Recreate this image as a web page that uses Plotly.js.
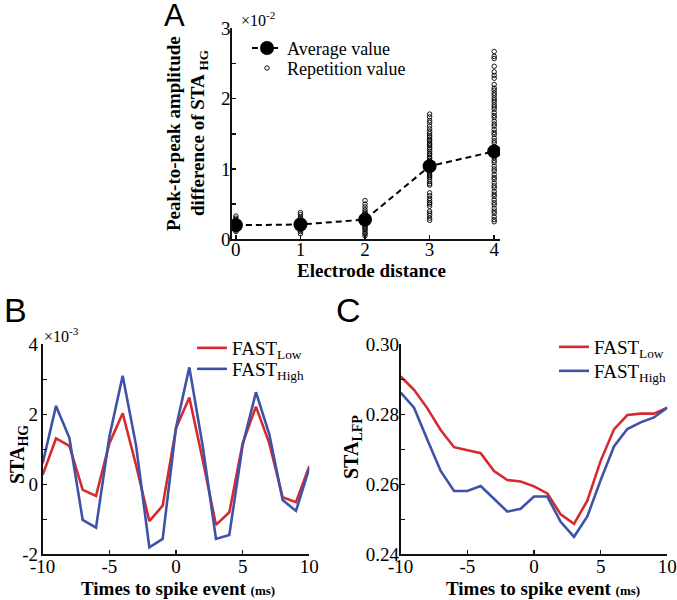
<!DOCTYPE html>
<html>
<head>
<meta charset="utf-8">
<script src="https://cdn.plot.ly/plotly-3.0.1.min.js"></script>
<style>html,body{margin:0;padding:0;background:#fff;}#chart{width:677px;height:600px;}</style>
</head>
<body>
<div id="chart"></div>
<script>
// ---------- Panel A data ----------
var electrodeDistance = [0, 1, 2, 3, 4];
var averageValue = [0.20, 0.21, 0.28, 1.04, 1.25];   // x10^-2
var rep0 = [0.33, 0.30, 0.28, 0.26, 0.25, 0.23, 0.22, 0.21, 0.19, 0.18, 0.17, 0.16, 0.14, 0.13, 0.11];
var rep1 = [0.38, 0.35, 0.31, 0.29, 0.27, 0.25, 0.24, 0.22, 0.21, 0.19, 0.18, 0.16, 0.15, 0.13, 0.11, 0.08];
var rep2 = [0.55, 0.50, 0.46, 0.42, 0.39, 0.37, 0.35, 0.33, 0.31, 0.30, 0.27, 0.25, 0.23, 0.21, 0.19, 0.17, 0.15, 0.13, 0.10, 0.08, 0.05];
var rep3 = [1.78, 1.74, 1.69, 1.66, 1.61, 1.57, 1.53, 1.50, 1.47, 1.45, 1.42, 1.40, 1.37, 1.35, 1.33, 1.30, 1.28, 1.25, 1.22, 1.20, 1.17, 1.15, 1.12, 1.10, 1.07, 1.05, 1.02, 1.00, 0.97, 0.95, 0.92, 0.90, 0.88, 0.85, 0.82, 0.79, 0.77, 0.66, 0.62, 0.58, 0.55, 0.52, 0.50, 0.47, 0.40, 0.37, 0.34, 0.30, 0.27];
var rep4 = [2.67, 2.60, 2.57, 2.46, 2.38, 2.33, 2.29, 2.20, 2.15, 2.12, 2.08, 2.05, 2.01, 1.98, 1.95, 1.91, 1.88, 1.85, 1.80, 1.76, 1.73, 1.68, 1.64, 1.61, 1.56, 1.52, 1.49, 1.44, 1.40, 1.37, 1.32, 1.29, 1.24, 1.21, 1.16, 1.12, 1.09, 1.04, 1.00, 0.97, 0.92, 0.88, 0.85, 0.80, 0.76, 0.73, 0.68, 0.64, 0.61, 0.56, 0.52, 0.49, 0.44, 0.40, 0.37, 0.32, 0.28, 0.25];
var repetitions = [rep0, rep1, rep2, rep3, rep4];

// ---------- Panels B and C data ----------
var timeToSpike = [-10, -9, -8, -7, -6, -5, -4, -3, -2, -1, 0, 1, 2, 3, 4, 5, 6, 7, 8, 9, 10];
var staHgLow  = [0.27, 1.31, 1.10, -0.16, -0.33, 1.17, 2.03, 0.55, -1.05, -0.61, 1.60, 2.48, 0.70, -1.16, -0.80, 1.17, 2.22, 1.17, -0.37, -0.51, 0.52];  // x10^-3
var staHgHigh = [0.60, 2.24, 1.33, -1.02, -1.24, 1.36, 3.10, 1.12, -1.80, -1.56, 1.62, 3.34, 1.10, -1.56, -1.45, 1.12, 2.63, 1.43, -0.45, -0.76, 0.46]; // x10^-3
var staLfpLow  = [0.2908, 0.2870, 0.2817, 0.2755, 0.2706, 0.2698, 0.2689, 0.2638, 0.2612, 0.2608, 0.2594, 0.2574, 0.2514, 0.2487, 0.2553, 0.2667, 0.2757, 0.2798, 0.2802, 0.2802, 0.2819];
var staLfpHigh = [0.2862, 0.2819, 0.2727, 0.2638, 0.2581, 0.2581, 0.2595, 0.2557, 0.2522, 0.2530, 0.2565, 0.2565, 0.2493, 0.2450, 0.2508, 0.2612, 0.2708, 0.2758, 0.2777, 0.2791, 0.2819];

var xTicksA = [0, 1, 2, 3, 4];
var yTicksA = [0, 1, 2, 3];
var yMinorA = [0.5, 1.5, 2.5];
var xTicksBC = [-10, -5, 0, 5, 10];
var xTickTextBC = ['-10', '-5', '0', '5', '10'];
var yTicksB = [-2, 0, 2, 4];
var yTickTextB = ['-2', '0', '2', '4'];
var yMinorB = [-1, 1, 3];
var yTicksC = [0.24, 0.26, 0.28, 0.30];
var yTickTextC = ['0.24', '0.26', '0.28', '0.30'];
var yMinorC = [0.25, 0.27, 0.29];

var RED = 'rgb(214,42,48)';
var BLUE = 'rgb(62,82,168)';
var W = 677, H = 600;
function fx(p) { return p / W; }
function fy(p) { return 1 - p / H; }
var SERIF = 'Liberation Serif';
var SANS = 'Liberation Sans';

var traces = [];
traces.push({
  x: electrodeDistance, y: averageValue,
  type: 'scatter', mode: 'lines+markers',
  name: 'Average value', legend: 'legend', showlegend: true,
  line: { color: '#000', width: 2, dash: '6px,4px' },
  marker: { size: 14, color: '#000' },
  xaxis: 'x', yaxis: 'y'
});
repetitions.forEach(function (vals, i) {
  traces.push({
    x: vals.map(function () { return electrodeDistance[i]; }),
    y: vals,
    type: 'scatter', mode: 'markers',
    name: 'Repetition value',
    legend: 'legend4',
    showlegend: i === 0,
    marker: { symbol: 'circle-open', size: 4.5, color: '#000', line: { width: 0.9, color: '#000' } },
    xaxis: 'x', yaxis: 'y', hoverinfo: 'skip'
  });
});
traces.push({ x: timeToSpike, y: staHgLow, type: 'scatter', mode: 'lines', name: 'FAST<sub>Low</sub>', legend: 'legend2',
  line: { color: RED, width: 2.6 }, xaxis: 'x2', yaxis: 'y2' });
traces.push({ x: timeToSpike, y: staHgHigh, type: 'scatter', mode: 'lines', name: 'FAST<sub>High</sub>', legend: 'legend5',
  line: { color: BLUE, width: 2.6 }, xaxis: 'x2', yaxis: 'y2' });
traces.push({ x: timeToSpike, y: staLfpLow, type: 'scatter', mode: 'lines', name: 'FAST<sub>Low</sub>', legend: 'legend3',
  line: { color: RED, width: 2.6 }, xaxis: 'x3', yaxis: 'y3' });
traces.push({ x: timeToSpike, y: staLfpHigh, type: 'scatter', mode: 'lines', name: 'FAST<sub>High</sub>', legend: 'legend6',
  line: { color: BLUE, width: 2.6 }, xaxis: 'x3', yaxis: 'y3' });

function axisBase(extra) {
  var a = {
    showgrid: false, zeroline: false, showline: true, linecolor: '#111', linewidth: 1.8,
    ticks: 'inside', ticklen: 4, tickwidth: 1.5, tickcolor: '#111', tickmode: 'array',
    ticklabeloverflow: 'allow',
    tickfont: { family: SERIF, size: 19, color: '#000' }, fixedrange: true
  };
  for (var k in extra) a[k] = extra[k];
  return a;
}
function minorTicks(vals) {
  return { tickmode: 'array', tickvals: vals, ticks: 'inside', ticklen: 4, tickwidth: 1.5, tickcolor: '#111', showgrid: false };
}
function legendAt(px, py, size) {
  return { visible: true, x: fx(px), y: fy(py), xanchor: 'left', yanchor: 'top', bgcolor: 'rgba(0,0,0,0)',
    font: { family: SERIF, size: size, color: '#000' }, itemwidth: 30 };
}

var layout = {
  width: W, height: H,
  showlegend: true,
  margin: { l: 0, r: 0, t: 0, b: 0 },
  paper_bgcolor: '#fff', plot_bgcolor: 'rgba(0,0,0,0)',
  font: { family: SERIF, color: '#000' },
  xaxis: axisBase({ domain: [fx(232), fx(500)], range: [-0.06, 4.09], tickvals: xTicksA, anchor: 'y', ticklabelstandoff: -8 }),
  yaxis: axisBase({ domain: [fy(239.3), fy(28.3)], range: [0, 3], tickvals: yTicksA, anchor: 'x', minor: minorTicks(yMinorA), ticklabelstandoff: -4 }),
  xaxis2: axisBase({ domain: [fx(42.7), fx(309.3)], range: [-10, 10], tickvals: xTicksBC, ticktext: xTickTextBC, anchor: 'y2', ticklabelstandoff: -6 }),
  yaxis2: axisBase({ domain: [fy(554.3), fy(344.3)], range: [-2, 4], tickvals: yTicksB, ticktext: yTickTextB, anchor: 'x2', minor: minorTicks(yMinorB), ticklabelstandoff: -1 }),
  xaxis3: axisBase({ domain: [fx(400.7), fx(667.3)], range: [-10, 10], tickvals: xTicksBC, ticktext: xTickTextBC, anchor: 'y3', ticklabelstandoff: -6 }),
  yaxis3: axisBase({ domain: [fy(554.3), fy(344.3)], range: [0.24, 0.30], tickvals: yTicksC, ticktext: yTickTextC, anchor: 'x3', minor: minorTicks(yMinorC), ticklabelstandoff: -4 }),
  legend: legendAt(247, 29.8, 18),
  legend4: legendAt(247, 49.8, 18),
  legend2: legendAt(192, 329, 19),
  legend5: legendAt(192, 350, 19),
  legend3: legendAt(554, 328, 19),
  legend6: legendAt(554, 352, 19),
  annotations: [
    { text: 'A', x: fx(174), y: fy(15), xref: 'paper', yref: 'paper', showarrow: false, xanchor: 'center', yanchor: 'middle',
      font: { family: SANS, size: 31, color: '#000' } },
    { text: 'B', x: fx(15), y: fy(310), xref: 'paper', yref: 'paper', showarrow: false, xanchor: 'center', yanchor: 'middle',
      font: { family: SANS, size: 34, color: '#000' } },
    { text: 'C', x: fx(348), y: fy(310), xref: 'paper', yref: 'paper', showarrow: false, xanchor: 'center', yanchor: 'middle',
      font: { family: SANS, size: 34, color: '#000' } },
    { text: '×10<sup>-2</sup>', x: fx(239), y: fy(19), xref: 'paper', yref: 'paper', showarrow: false, xanchor: 'left', yanchor: 'middle',
      font: { family: SERIF, size: 16, color: '#000' } },
    { text: '×10<sup>-3</sup>', x: fx(42), y: fy(335), xref: 'paper', yref: 'paper', showarrow: false, xanchor: 'left', yanchor: 'middle',
      font: { family: SERIF, size: 16, color: '#000' } },
    { text: 'Peak-to-peak amplitude', x: fx(173), y: fy(134), xref: 'paper', yref: 'paper', showarrow: false, textangle: -90,
      xanchor: 'center', yanchor: 'middle', font: { family: SERIF, size: 19, weight: 'bold', color: '#000' } },
    { text: 'difference of STA <sub>HG</sub>', x: fx(199), y: fy(133), xref: 'paper', yref: 'paper', showarrow: false, textangle: -90,
      xanchor: 'center', yanchor: 'middle', font: { family: SERIF, size: 19, weight: 'bold', color: '#000' } },
    { text: 'Electrode distance', x: fx(371), y: fy(270), xref: 'paper', yref: 'paper', showarrow: false,
      xanchor: 'center', yanchor: 'middle', font: { family: SERIF, size: 19, weight: 'bold', color: '#000' } },
    { text: 'STA<sub>HG</sub>', x: fx(18), y: fy(455), xref: 'paper', yref: 'paper', showarrow: false, textangle: -90,
      xanchor: 'center', yanchor: 'middle', font: { family: SERIF, size: 20, weight: 'bold', color: '#000' } },
    { text: 'STA<sub>LFP</sub>', x: fx(352), y: fy(447), xref: 'paper', yref: 'paper', showarrow: false, textangle: -90,
      xanchor: 'center', yanchor: 'middle', font: { family: SERIF, size: 20, weight: 'bold', color: '#000' } },
    { text: 'Times to spike event <span style="font-size:13px">(ms)</span>', x: fx(178), y: fy(588), xref: 'paper', yref: 'paper', showarrow: false,
      xanchor: 'center', yanchor: 'middle', font: { family: SERIF, size: 19, weight: 'bold', color: '#000' } },
    { text: 'Times to spike event <span style="font-size:13px">(ms)</span>', x: fx(543), y: fy(588), xref: 'paper', yref: 'paper', showarrow: false,
      xanchor: 'center', yanchor: 'middle', font: { family: SERIF, size: 19, weight: 'bold', color: '#000' } }
  ]
};

Plotly.newPlot('chart', traces, layout, { staticPlot: true, displayModeBar: false });
</script>
</body>
</html>
